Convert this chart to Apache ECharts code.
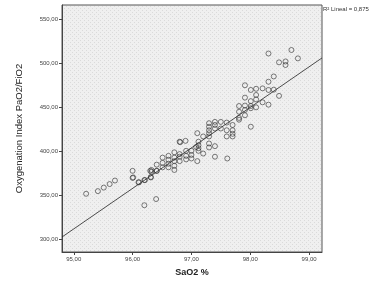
<!DOCTYPE html>
<html><head><meta charset="utf-8">
<script src="https://cdn.jsdelivr.net/npm/echarts@6/dist/echarts.min.js"></script>
<style>html,body{margin:0;padding:0;background:#fff}#c{width:380px;height:282px}</style>
</head><body><div id="c"></div>
<script>
var xTicks = [95, 96, 97, 98, 99];
var yTicks = [300, 350, 400, 450, 500, 550];
var sao2 = [95.21,95.41,95.51,95.61,95.70,96.00,96.00,96.10,96.20,96.30,96.31,96.41,96.41,96.20,96.40,
  97.91,98.01,98.10,98.10,97.91,98.10,98.01,97.81,97.91,98.01,98.01,98.10,97.91,97.81,97.81,97.81,97.91,98.01,
  97.10,97.20,97.30,97.30,97.30,97.30,97.40,97.40,97.50,97.50,97.60,97.60,97.70,97.70,97.70,97.70,97.60,97.30,97.40,
  98.31,98.70,98.81,98.49,98.60,98.60,98.40,98.31,98.21,98.31,98.40,98.21,98.49,98.31,
  96.80,97.12,97.12,97.12,97.12,97.30,97.30,97.40,97.20,97.10,97.40,97.61,97.00,97.00,97.00,96.91,96.91,96.91,
  96.80,96.80,96.80,96.71,96.71,96.71,96.71,96.71,96.61,96.61,96.61,96.61,96.51,96.51,96.51,96.41,96.32,96.32,
  96.31,96.21,96.11,96.01,96.81,96.90,97.08];
var oxIndex = [352,355,359,363,367,378,370,365,367.5,378,371,385,378,339,346,
  475,469.7,471,464,461,459,457,451.5,452,451.5,449,450,447,445,438,436,441,428,
  420.7,417,432,428,424,420.7,433.5,430,433.5,426,432.7,424,430,424,420,417,417,417,426,
  511,515,505.5,501,502,498,485,479,471.5,469.7,470,455.7,463,453,
  411,411,407,403.6,400.7,409,404.5,406,397.6,389,394,392,400.7,396,392,400.7,395,391,
  397,394,389,399,393,389,383.7,379,395,390.5,386,382,393,387,382,378,379,377,
  370.5,367.5,365,370.5,410.5,412,405];
var fitX = [94.8, 99.22];
var fitY = [303, 506];
var xRange = [94.8, 99.22];
var yRange = [286, 566];
var r2Label = 'R\u00b2 Lineal = 0,875';

function fmt(v){ return v.toFixed(2).replace('.', ','); }
var pts = sao2.map(function(x,i){ return [x, oxIndex[i]]; });
var fit = fitX.map(function(x,i){ return [x, fitY[i]]; });

// dotted plot background texture
var pc = document.createElement('canvas'); pc.width = 4; pc.height = 4;
var g = pc.getContext('2d');
g.fillStyle = '#efefef'; g.fillRect(0,0,4,4);
g.fillStyle = '#dadada'; g.fillRect(0,0,1,1); g.fillRect(2,2,1,1);

var chart = echarts.init(document.getElementById('c'));
chart.setOption({
  animation: false,
  backgroundColor: '#ffffff',
  grid: { left: 62, right: 58, top: 5, bottom: 30, show: true, backgroundColor: { image: pc, repeat: 'repeat' }, borderColor: '#555', borderWidth: 1 },
  xAxis: {
    type: 'value', min: xRange[0], max: xRange[1],
    name: 'SaO2 %', nameLocation: 'middle', nameGap: 16,
    nameTextStyle: { fontFamily: 'Liberation Sans', fontSize: 9, fontWeight: 'bold', color: '#222' },
    axisLine: { show: true, onZero: false, lineStyle: { color: '#444', width: 1 } },
    axisTick: { show: true, length: 3, customValues: xTicks, lineStyle: { color: '#444' } },
    axisLabel: { customValues: xTicks, formatter: fmt, fontFamily: 'Liberation Sans', fontSize: 6, color: '#444', margin: 4 },
    splitLine: { show: false }
  },
  yAxis: {
    type: 'value', min: yRange[0], max: yRange[1],
    name: 'Oxygenation Index PaO2/FiO2', nameLocation: 'middle', nameGap: 38, nameRotate: 90,
    nameTextStyle: { fontFamily: 'Liberation Sans', fontSize: 9.5, color: '#222' },
    axisLine: { show: true, onZero: false, lineStyle: { color: '#444', width: 1 } },
    axisTick: { show: true, length: 3, customValues: yTicks, lineStyle: { color: '#444' } },
    axisLabel: { customValues: yTicks, formatter: fmt, fontFamily: 'Liberation Sans', fontSize: 6, color: '#444', margin: 4 },
    splitLine: { show: false }
  },
  graphic: [{ type: 'text', left: 323, top: 6, style: { text: r2Label, fontFamily: 'Liberation Sans', fontSize: 6, fill: '#333' } }],
  series: [
    { type: 'line', data: fit, symbol: 'none', lineStyle: { color: '#222', width: 0.8 }, silent: true, z: 1 },
    { type: 'scatter', data: pts, symbol: 'circle', symbolSize: 5,
      itemStyle: { color: 'rgba(0,0,0,0)', borderColor: '#333', borderWidth: 0.8 }, z: 2 }
  ]
});
</script></body></html>
